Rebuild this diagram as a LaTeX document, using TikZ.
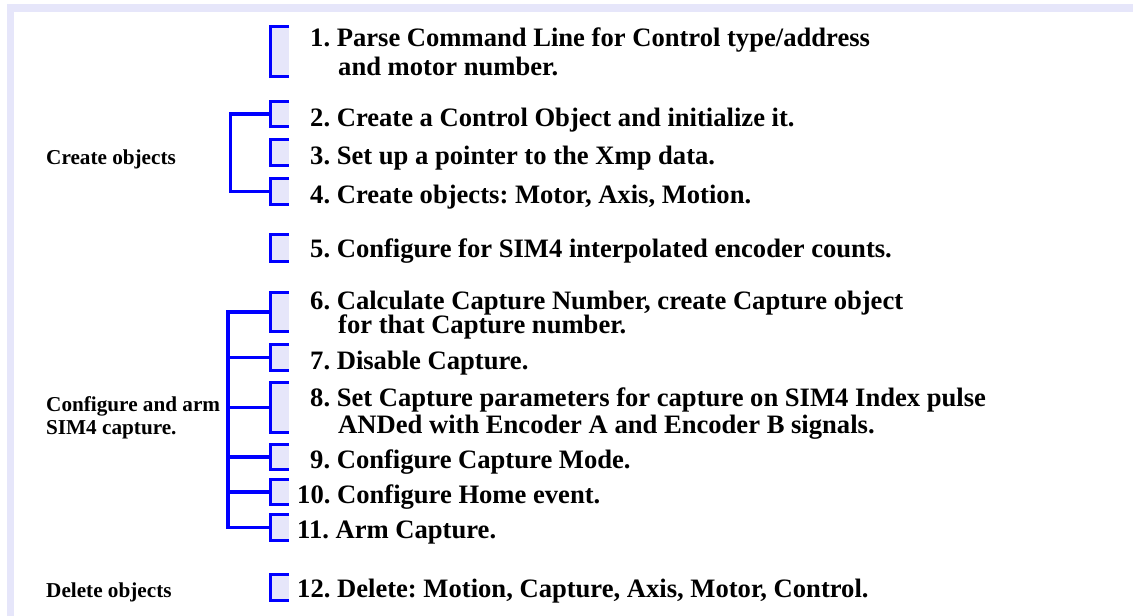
\documentclass[tikz,border=0pt]{standalone}
\usepackage{fontspec}
\setmainfont{Liberation Serif}
\frenchspacing
\definecolor{lav}{RGB}{230,230,250}
\definecolor{pblue}{RGB}{0,0,255}
\tikzset{
  bk/.style={rectangle, fill=lav, draw=none, inner sep=0pt, minimum width=20pt},
  bline/.style={draw=pblue, line width=3.5pt, line cap=butt, line join=miter},
  item/.style={anchor=base west, inner sep=0pt, font=\fontsize{26.6}{29}\selectfont\bfseries\frenchspacing},
  lbl/.style={anchor=base west, inner sep=0pt, font=\fontsize{21.2}{23}\selectfont\bfseries\frenchspacing},
}
\newcommand\mkbrk[3]{%
  \node[bk, minimum height={(#3-#2)*1pt}] (#1) at (279,{(#2+#3)/2}) {};
  \draw[bline] ([yshift=-1.75pt]#1.north east) -- ([xshift=1.75pt,yshift=-1.75pt]#1.north west)
    -- ([xshift=1.75pt,yshift=1.75pt]#1.south west) -- ([yshift=1.75pt]#1.south east);}
\begin{document}
\begin{tikzpicture}[x=1pt,y=-1pt]
\useasboundingbox (0,0) rectangle (1136,616);
\fill[lav] (7,4) rectangle (1133,616);
\fill[white] (14,12) rectangle (1133,616);

\mkbrk{b1}{25}{78}
\mkbrk{b2}{100}{128}
\mkbrk{b3}{138}{167}
\mkbrk{b4}{177}{206}
\mkbrk{b5}{233}{263}
\mkbrk{b6}{291}{333}
\mkbrk{b7}{343}{372}
\mkbrk{b8}{381}{434}
\mkbrk{b9}{443}{471}
\mkbrk{b10}{478}{506}
\mkbrk{b11}{513}{542}
\mkbrk{b12}{573}{602}

% group trunks
\coordinate (t1) at (230.5,0);
\coordinate (t2) at (228,0);
\draw[bline] (b2.west) -| (t1 |- b4.west) -- (b4.west);
\draw[bline] (b6.west) -| (t2 |- b11.west) -- (b11.west);
\draw[bline] (t2 |- b7.west) -- (b7.west);
\draw[bline] (t2 |- b8.west) -- (b8.west);
\draw[bline] (t2 |- b9.west) -- (b9.west);
\draw[bline] (t2 |- b10.west) -- (b10.west);

% labels
\node[lbl] (l1) at (46,164) {Create objects};
\node[lbl] (l2a) at (46,411) {Configure and arm};
\node[lbl] (l2b) at (46,434) {SIM4 capture.};
\node[lbl] (l3) at (46,597) {Delete objects};

% items
\node[item] (i1a) at (310,46) {1. Parse Command Line for Control type/address};
\node[item] (i1b) at (338,75) {and motor number.};
\node[item] (i2) at (310,126) {2. Create a Control Object and initialize it.};
\node[item] (i3) at (310,164) {3. Set up a pointer to the Xmp data.};
\node[item] (i4) at (310,203) {4. Create objects: Motor, Axis, Motion.};
\node[item] (i5) at (310,257) {5. Configure for SIM4 interpolated encoder counts.};
\node[item] (i6a) at (310,309) {6. Calculate Capture Number, create Capture object};
\node[item] (i6b) at (338,333) {for that Capture number.};
\node[item] (i7) at (310,369) {7. Disable Capture.};
\node[item] (i8a) at (310,406) {8. Set Capture parameters for capture on SIM4 Index pulse};
\node[item] (i8b) at (338,433) {ANDed with Encoder A and Encoder B signals.};
\node[item] (i9) at (310,468) {9. Configure Capture Mode.};
\node[item] (i10) at (297,503) {10. Configure Home event.};
\node[item] (i11) at (297,538) {11. Arm Capture.};
\node[item] (i12) at (297,597) {12. Delete: Motion, Capture, Axis, Motor, Control.};
\end{tikzpicture}
\end{document}
